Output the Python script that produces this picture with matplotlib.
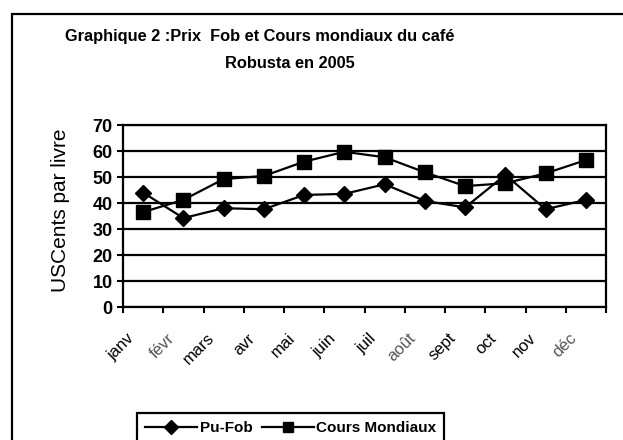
import matplotlib
matplotlib.use("Agg")
import matplotlib.pyplot as plt
import matplotlib.transforms as mtransforms
from matplotlib.patches import Rectangle
import numpy as np

plt.rcParams['font.family'] = ['Liberation Sans', 'DejaVu Sans']

months = ["janv", "févr", "mars", "avr", "mai", "juin", "juil", "août",
          "sept", "oct", "nov", "déc"]
pu_fob = [44.0, 34.2, 38.0, 37.6, 43.1, 43.5, 47.2, 40.8, 38.3, 50.8, 37.6, 41.2]
cours_mondiaux = [36.5, 41.2, 49.2, 50.4, 55.9, 59.7, 57.6, 51.8, 46.5, 47.6, 51.4, 56.5]
yticks = [0, 10, 20, 30, 40, 50, 60, 70]
gray_labels = ["févr", "août", "déc"]

W, H = 623, 440
fig = plt.figure(figsize=(W / 100, H / 100), dpi=100)

# outer frame (right and bottom edges fall outside the picture)
fig.patches.append(Rectangle((11.5 / W, -0.2), 1.5, 1.2 - 13.5 / H,
                             transform=fig.transFigure, fill=False,
                             edgecolor='black', linewidth=1.6, zorder=0))

ax = fig.add_axes([123 / W, 1 - 307 / H, (606 - 123) / W, (307 - 125) / H])

x = np.arange(len(months)) + 0.5
ax.plot(x, pu_fob, color='black', linewidth=1.6, marker='D', markersize=8.5,
        markerfacecolor='black', markeredgecolor='black', label='Pu-Fob',
        zorder=3, clip_on=False)
ax.plot(x, cours_mondiaux, color='black', linewidth=1.6, marker='s', markersize=9.8,
        markerfacecolor='black', markeredgecolor='black', label='Cours Mondiaux',
        zorder=3, clip_on=False)

ax.set_xlim(0, len(months))
ax.set_ylim(0, 70)
ax.set_yticks(yticks)
ax.set_yticklabels([str(v) for v in yticks], fontsize=13, fontweight='bold')
ax.yaxis.grid(True, color='black', linewidth=1.6)
ax.set_axisbelow(True)
ax.tick_params(axis='y', direction='out', length=4.5, width=1.5, pad=3)

# major ticks at category boundaries, labels on category centres
ax.set_xticks(np.arange(len(months) + 1))
ax.set_xticklabels([])
ax.tick_params(axis='x', which='major', direction='out', length=4.5, width=1.5)
ax.set_xticks(x, minor=True)
ax.set_xticklabels(months, minor=True, rotation=45, ha='right', va='top',
                   fontsize=12)
ax.tick_params(axis='x', which='minor', length=0, pad=17)
offset = mtransforms.ScaledTranslation(-6 / 100, 0, fig.dpi_scale_trans)
for lbl in ax.get_xticklabels(minor=True):
    lbl.set_transform(lbl.get_transform() + offset)
    if lbl.get_text() in gray_labels:
        lbl.set_color('#555555')

for sp in ax.spines.values():
    sp.set_linewidth(1.6)
    sp.set_color('black')

fig.text(61 / W, 1 - 210 / H, "USCents par livre", rotation=90, fontsize=15,
         ha='center', va='center')

fig.text(260 / W, 1 - 37 / H, "Graphique 2 :Prix  Fob et Cours mondiaux du café",
         fontsize=11.8, fontweight='bold', ha='center', va='center')
fig.text(290 / W, 1 - 63 / H, "Robusta en 2005",
         fontsize=11.8, fontweight='bold', ha='center', va='center')

handles, labels = ax.get_legend_handles_labels()
leg = fig.legend(handles, labels, loc='upper left',
                 bbox_to_anchor=(137 / W, 1 - 413 / H), ncol=2,
                 frameon=True, fancybox=False, shadow=False,
                 prop={'size': 11, 'weight': 'bold'},
                 handlelength=3.4, handletextpad=0.15, columnspacing=0.6,
                 borderpad=0.55, borderaxespad=0, markerscale=0.8)
leg.get_frame().set_edgecolor('black')
leg.get_frame().set_linewidth(1.6)
leg.get_frame().set_alpha(1)

fig.savefig("out.png", dpi=100)
